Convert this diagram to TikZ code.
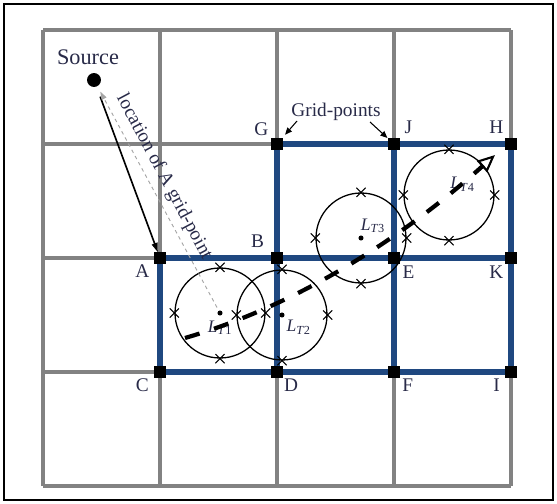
\documentclass[tikz,border=0pt]{standalone}
\usepackage{fontspec}
\setmainfont{Liberation Serif}
\usetikzlibrary{positioning, arrows.meta, shapes.misc}
\definecolor{gridblue}{RGB}{31,72,128}
\definecolor{cellgray}{RGB}{130,130,130}
\definecolor{labelink}{RGB}{40,42,72}
\definecolor{tracegray}{RGB}{165,165,165}

\begin{document}
\begin{tikzpicture}[x=0.03cm, y=-0.03cm, >=Stealth, font=\fontsize{16.5}{19}\selectfont]
    \tikzstyle{cell} = [draw=cellgray, line width=2.6pt]
    \tikzstyle{link} = [draw=gridblue, line width=5pt]
    \tikzstyle{gpoint} = [fill=black, rectangle, minimum size=9.4pt, inner sep=0pt]
    \tikzstyle{lbl} = [text=labelink, inner sep=1pt]
    \tikzstyle{tlbl} = [lbl, font=\fontsize{15}{17}\selectfont]
    \tikzstyle{ring} = [draw, circle, line width=1.1pt, minimum size=2.7cm, inner sep=0pt]
    \tikzstyle{xmark} = [draw, cross out, minimum size=7pt, inner sep=0pt, line width=0.8pt]
    \tikzstyle{centre} = [fill=black, circle, minimum size=4.3pt, inner sep=0pt]
    \tikzstyle{pointer} = [-{Triangle[length=6pt, width=5pt]}, line width=0.9pt]
    \tikzstyle{route} = [line width=3.6pt, dash pattern=on 13pt off 13pt,
        -{Triangle[open, length=15pt, width=13pt, line width=1.8pt]}]

    \useasboundingbox (0,0) rectangle (557,504);
    \draw[line width=1.6pt] (4,4) rectangle (553,500);

    \foreach \i in {0,...,4} {
        \draw[cell] (43+117*\i,30) -- (43+117*\i,486);
        \draw[cell] (43,30+114*\i) -- (511,30+114*\i);
    }

    \foreach \n/\x/\y in {G/277/144, J/394/144, H/511/144, A/160/258, B/277/258, E/394/258,
        K/511/258, C/160/372, D/277/372, F/394/372, I/511/372}
        \node [gpoint] (\n) at (\x,\y) {};

    \draw [link] (G) -- (J) -- (H) -- (K) -- (I) -- (F) -- (D) -- (C) -- (A) -- (B) -- (E) -- (K);
    \draw [link] (G) -- (B) -- (D);
    \draw [link] (J) -- (E) -- (F);

    \node [lbl, above left=1pt and 1.3pt of G] {G};
    \node [lbl, above right=2.5pt and 3pt of J] {J};
    \node [lbl, above left=2.5pt and 0.5pt of H] {H};
    \node [lbl, above left=2.5pt and 5pt of B] {B};
    \node [lbl, below left=0pt and 3pt of A] {A};
    \node [lbl, below right=1pt and 1.3pt of E] {E};
    \node [lbl, below left=1pt and 0.5pt of K] {K};
    \node [lbl, below left=0pt and 3.5pt of C] {C};
    \node [lbl, below right=0pt and 0pt of D] {D};
    \node [lbl, below right=0pt and 1pt of F] {F};
    \node [lbl, below left=0pt and 3.4pt of I] {I};

    \node [fill=black, circle, minimum size=11.9pt, inner sep=0pt] (src) at (94,80) {};
    \node [lbl, font=\fontsize{19}{22}\selectfont] (srclbl) at (88,57) {Source};

    \node [ring] (c1) at (220,313) {};
    \node [ring] (c2) at (282,315) {};
    \node [ring] (c3) at (361,238) {};
    \node [ring] (c4) at (449,195) {};
    \foreach \c in {c1,c2,c3,c4}
        \foreach \a in {north,south,east,west}
            \node [xmark] at (\c.\a) {};
    \foreach \c/\t in {c1/t1,c2/t2,c3/t3}
        \node [centre] (\t) at (\c) {};
    \coordinate (t4) at (c4);

    \node [tlbl, below=3pt of t1] {\textit{L}\textsubscript{\textit{T}1}};
    \node [tlbl, below right=1.5pt and 1pt of t2] {\textit{L}\textsubscript{\textit{T}2}};
    \node [tlbl, above right=1.5pt and -3pt of t3] {\textit{L}\textsubscript{\textit{T}3}};
    \node [tlbl, above right=2pt and 0pt of t4] {\textit{L}\textsubscript{\textit{T}4}};

    \node [lbl, rotate=-62] (loclbl) at (164,177) {location of A grid-point};
    \draw [-{Triangle[length=8pt, width=5pt]}, line width=1.4pt, shorten <=9pt] (src) -- (A);
    \draw [tracegray, dash pattern=on 3pt off 3pt, line width=0.8pt, shorten <=3pt, shorten >=5pt,
        -{Triangle[length=7pt, width=4.5pt]}] (t1) -- (src);

    \node [lbl] (gplbl) at (336,112) {Grid-points};
    \coordinate (gpl) at (297,121);
    \coordinate (gpr) at (370,122);
    \draw [pointer, shorten >=4pt] (gpl) -- (G);
    \draw [pointer, shorten >=1pt] (gpr) -- (J);

    \coordinate (rs) at (185,338);
    \coordinate (rc1) at (288,308);
    \coordinate (rc2) at (392,247);
    \coordinate (re) at (495,155);
    \draw [route] (rs) .. controls (rc1) and (rc2) .. (re);
\end{tikzpicture}
\end{document}
